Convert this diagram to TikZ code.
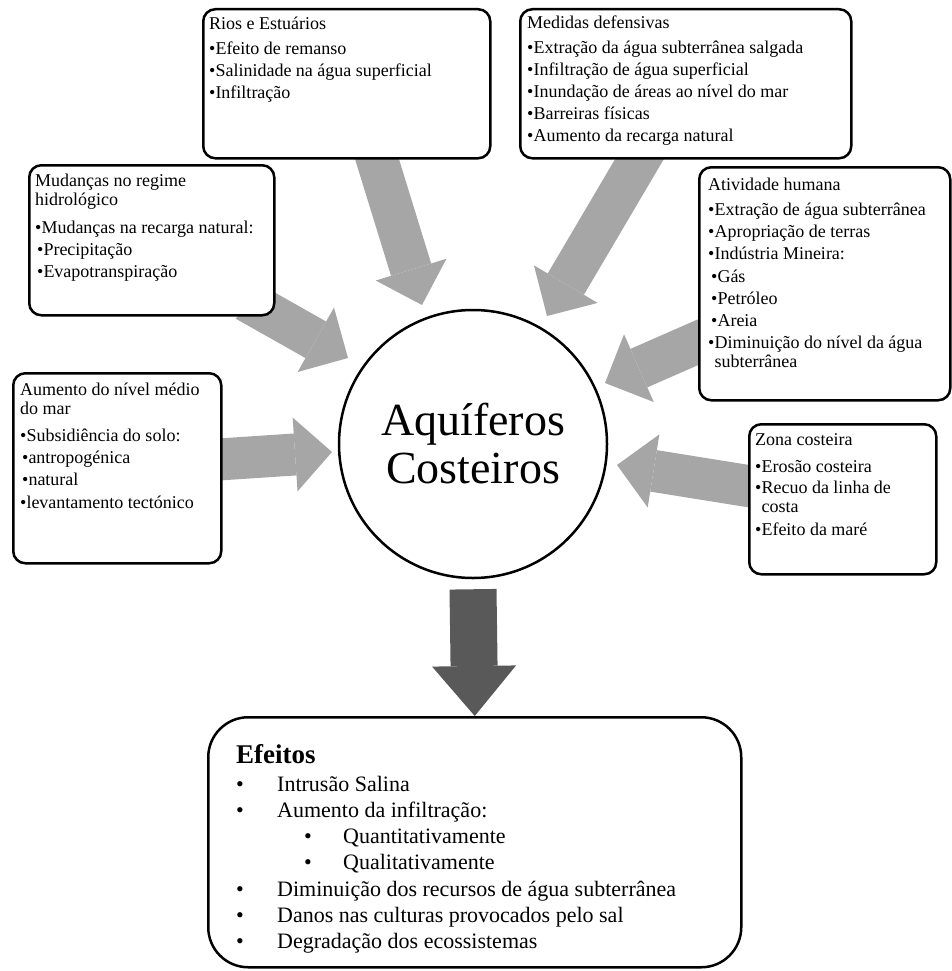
\documentclass[tikz,border=0pt]{standalone}
\usepackage{fontspec}
\setmainfont{Liberation Serif}
\usetikzlibrary{arrows.meta,backgrounds,calc}

\definecolor{arrowgray}{HTML}{A6A6A6}
\definecolor{effectgray}{HTML}{595959}
\newcommand{\boxlines}[1]{\parbox[t]{480pt}{#1}}

\begin{document}
\begin{tikzpicture}[x=1pt,y=-1pt,
    cause box/.style={draw,line width=2.5pt,rounded corners=12pt,fill=white,
                      inner sep=0pt,anchor=north west},
    cause text/.style={anchor=base west,inner sep=0pt,
                       font=\fontsize{18}{19}\selectfont},
    fat arrow/.style={line width=42pt,arrowgray,
                      -{Triangle[length=37pt,width=74pt,line width=0pt]}},
    effect arrow/.style={line width=47pt,effectgray,
                      -{Triangle[length=50pt,width=84pt,line width=0pt]}}]
  \useasboundingbox (0,0) rectangle (951,971);

  %centre%
  \node[draw,circle,line width=2.5pt,minimum size=268pt,inner sep=0pt,align=center,
        font=\fontsize{46}{48}\selectfont] (aquiferos) at (473,444) {Aquíferos\\Costeiros};

  %causas%
  \node[cause box,minimum width=287pt,minimum height=149pt] (rios) at (202,8) {};
  \node[cause text] (rios-txt) at ($(rios.north west)+(7,22)$) {\boxlines{%
     Rios e Estuários\\[6pt]
     •Efeito de remanso\\[3pt]
     •Salinidade na água superficial\\[3pt]
     •Infiltração}};

  \node[cause box,minimum width=331pt,minimum height=149pt] (medidas) at (519,8) {};
  \node[cause text] (medidas-txt) at ($(medidas.north west)+(8,21)$) {\boxlines{%
     Medidas defensivas\\[6pt]
     •Extração da água subterrânea salgada\\[3pt]
     •Infiltração de água superficial\\[3pt]
     •Inundação de áreas ao nível do mar\\[3pt]
     •Barreiras físicas\\[3pt]
     •Aumento da recarga natural}};

  \node[cause box,minimum width=245pt,minimum height=150pt] (mudancas) at (28,164) {};
  \node[cause text] (mudancas-txt) at ($(mudancas.north west)+(7,22)$) {\boxlines{%
     Mudanças no regime\\
     hidrológico\\[9pt]
     •Mudanças na recarga natural:\\[3pt]
     \hspace*{2pt}•Precipitação\\[3pt]
     \hspace*{2pt}•Evapotranspiração}};

  \node[cause box,minimum width=251pt,minimum height=233pt] (atividade) at (698,166) {};
  \node[cause text] (atividade-txt) at ($(atividade.north west)+(10,24)$) {\boxlines{%
     Atividade humana\\[6pt]
     •Extração de água subterrânea\\[3pt]
     •Apropriação de terras\\[3pt]
     •Indústria Mineira:\\[4pt]
     \hspace*{3pt}•Gás\\[3pt]
     \hspace*{3pt}•Petróleo\\[3pt]
     \hspace*{3pt}•Areia\\[3pt]
     •Diminuição do nível da água\\
     \phantom{•}subterrânea}};

  \node[cause box,minimum width=208pt,minimum height=190pt] (aumento) at (12,372) {};
  \node[cause text] (aumento-txt) at ($(aumento.north west)+(8,23)$) {\boxlines{%
     Aumento do nível médio\\
     do mar\\[8pt]
     •Subsidiência do solo:\\[3pt]
     \hspace*{2pt}•antropogénica\\[3pt]
     \hspace*{2pt}•natural\\[4pt]
     •levantamento tectónico}};

  \node[cause box,minimum width=187pt,minimum height=150pt] (zona) at (748,423) {};
  \node[cause text] (zona-txt) at ($(zona.north west)+(7,22)$) {\boxlines{%
     Zona costeira\\[8pt]
     •Erosão costeira\\[2pt]
     •Recuo da linha de\\
     \phantom{•}costa\\[4pt]
     •Efeito da maré}};

  %efeitos%
  \node[cause box,rounded corners=40pt,minimum width=533pt,minimum height=250pt] (efeitos) at (207,716) {};
  \node[cause text,font=\fontsize{22}{26.3}\selectfont] (efeitos-txt) at ($(efeitos.north west)+(29,47)$) {\boxlines{%
     {\fontsize{27}{27}\selectfont\bfseries Efeitos}\\[1.7pt]
     \makebox[41pt][l]{•}Intrusão Salina\\
     \makebox[41pt][l]{•}Aumento da infiltração:\\
     \hspace*{68pt}\makebox[39pt][l]{•}Quantitativamente\\
     \hspace*{68pt}\makebox[39pt][l]{•}Qualitativamente\\
     \makebox[41pt][l]{•}Diminuição dos recursos de água subterrânea\\
     \makebox[41pt][l]{•}Danos nas culturas provocados pelo sal\\
     \makebox[41pt][l]{•}Degradação dos ecossistemas}};

  %setas%
  \coordinate (t-rios) at (422,305);
  \coordinate (t-medidas) at (547,316);
  \coordinate (t-mudancas) at (348,358);
  \coordinate (t-aumento) at (332,452);
  \coordinate (t-atividade) at (605,383);
  \coordinate (t-zona) at (617,465);

  \begin{scope}[on background layer]
    \draw[fat arrow] ($(rios.south)+(24.5,-19)$) -- (t-rios);
    \draw[fat arrow] ($(medidas.south)+(-36.5,-17)$) -- (t-medidas);
    \draw[fat arrow] ($(mudancas.south)+(94.5,-16)$) -- (t-mudancas);
    \draw[fat arrow] ($(aumento.east)+(-15,-8)$) -- (t-aumento);
    \draw[fat arrow] ($(atividade.west)+(17,51)$) -- (t-atividade);
    \draw[fat arrow] ($(zona.west)+(20,-10)$) -- (t-zona);
    \draw[effect arrow] ([yshift=-10pt]aquiferos.south) -- (efeitos.north);
  \end{scope}
\end{tikzpicture}
\end{document}
